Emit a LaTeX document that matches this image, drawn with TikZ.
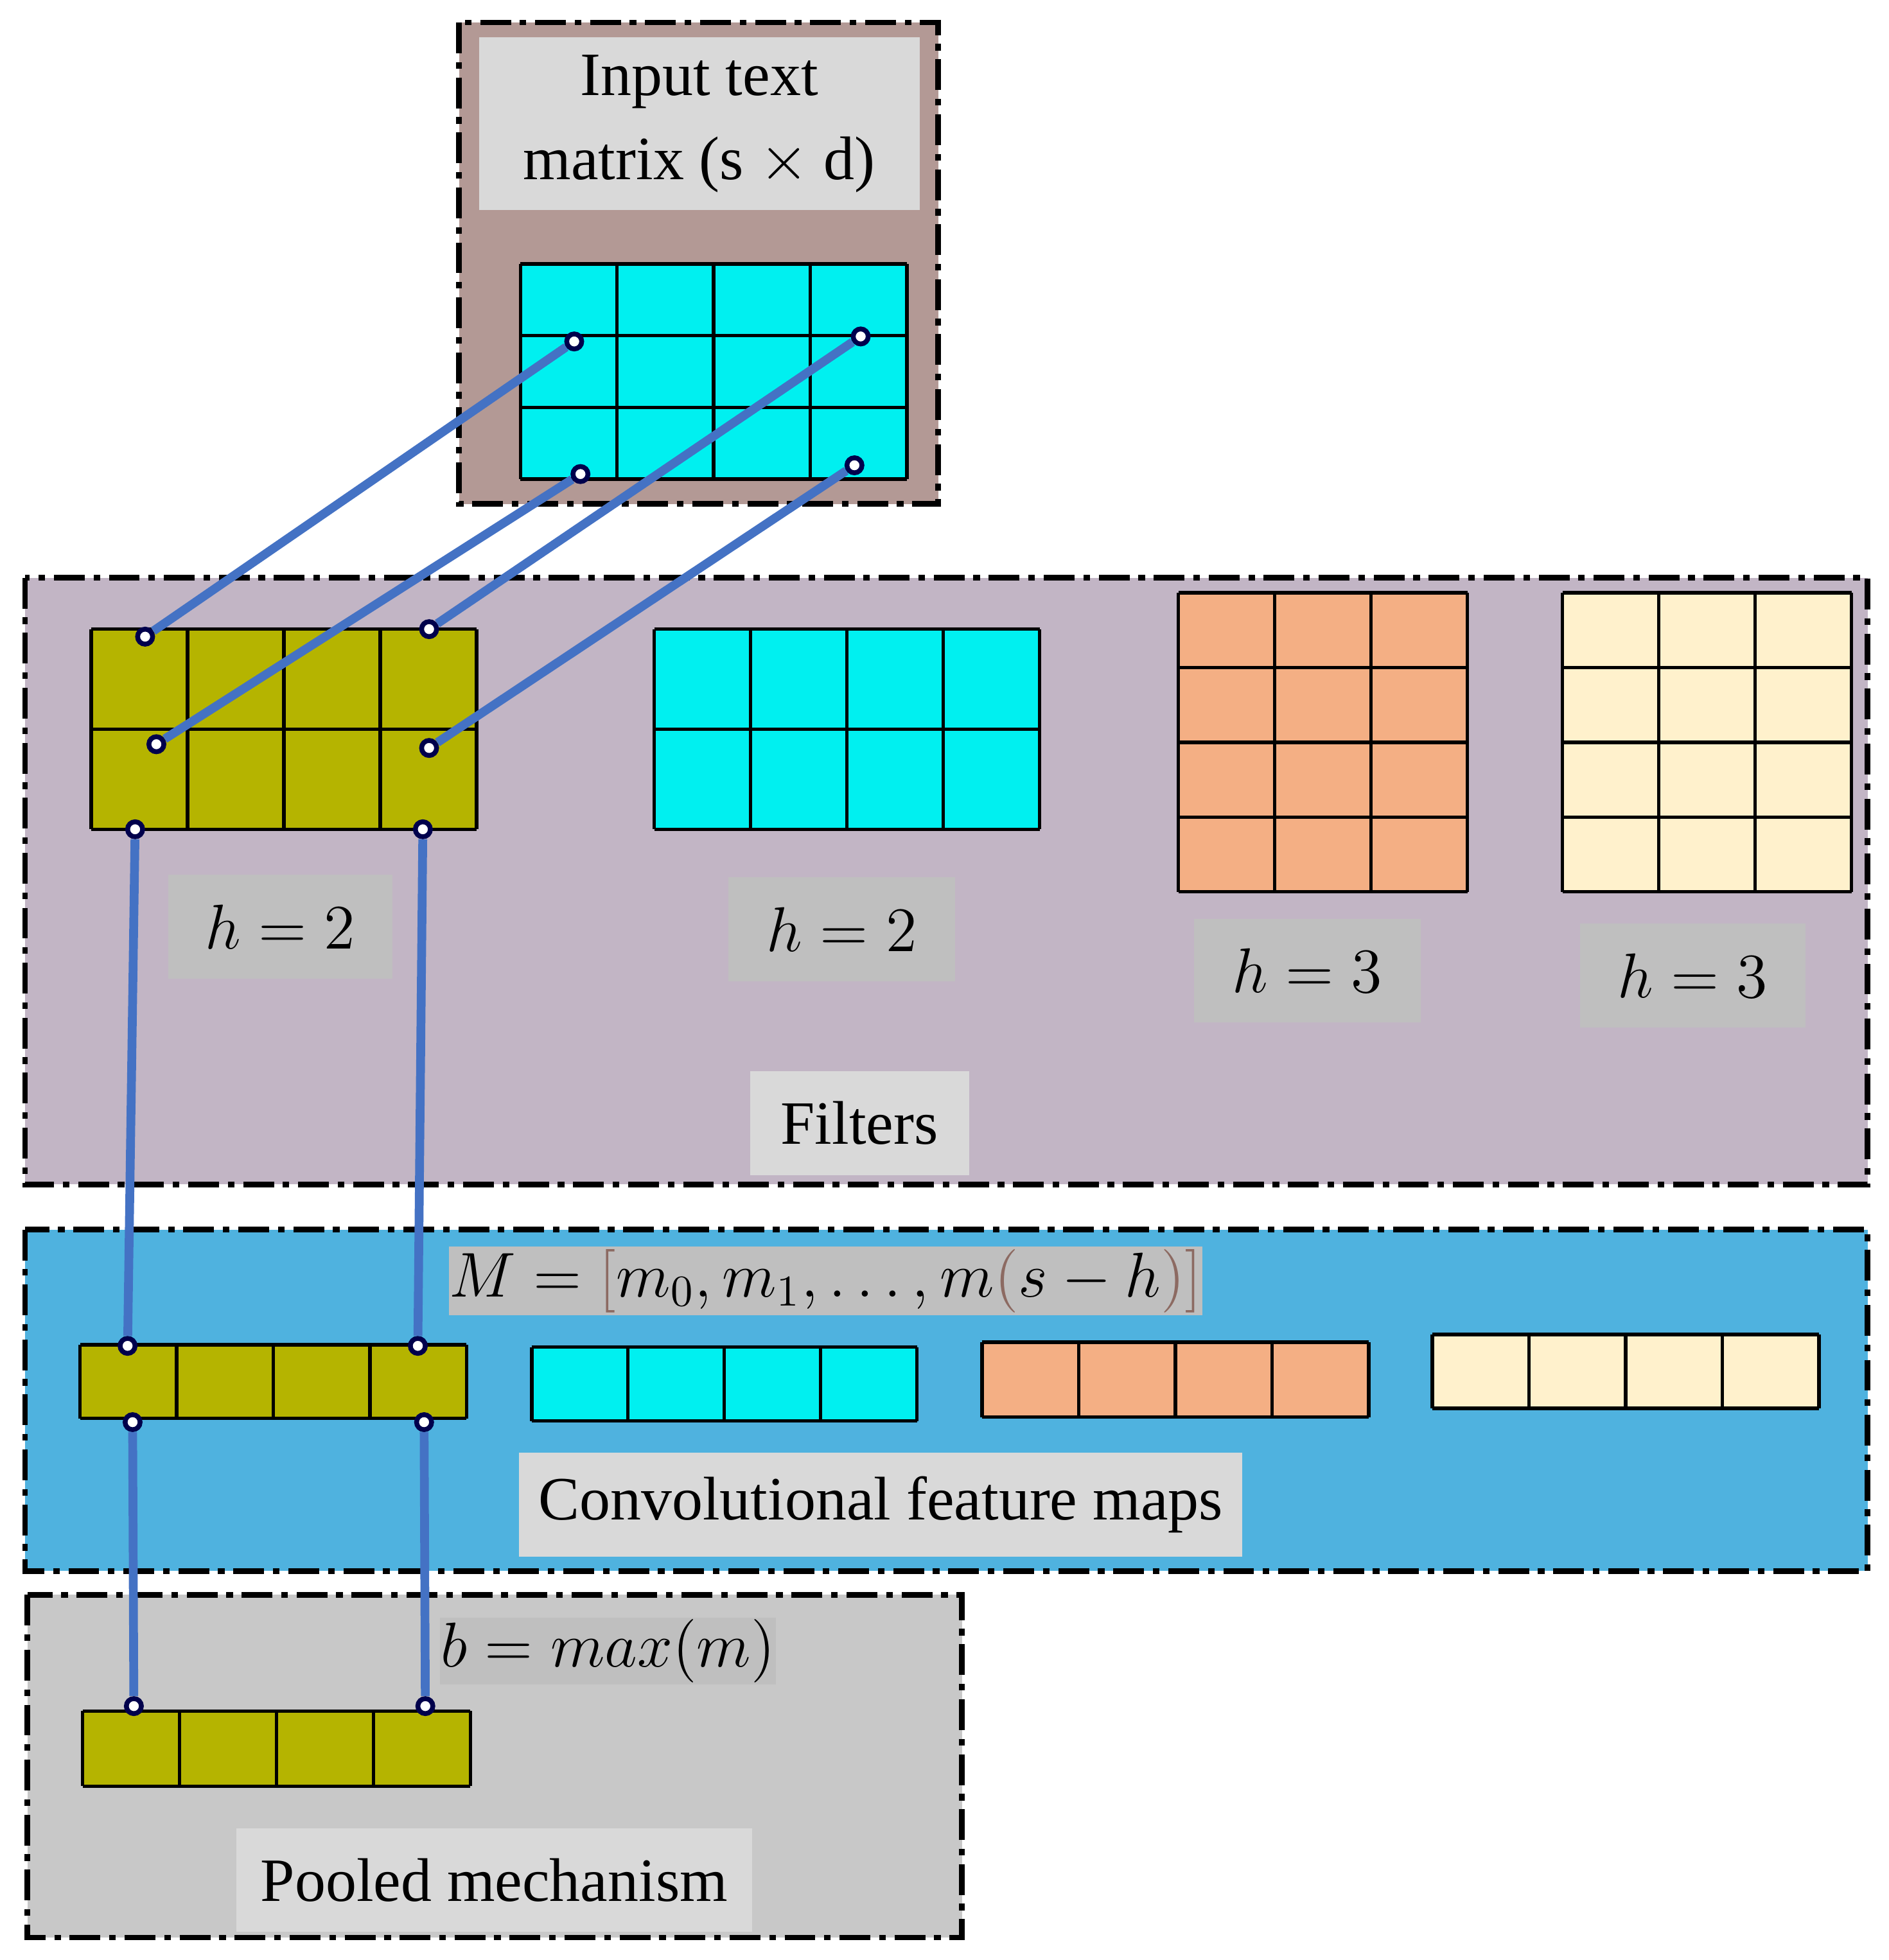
\documentclass[tikz,border=0pt]{standalone}
\usepackage{fontspec}
\setmainfont{Liberation Serif}
\usetikzlibrary{positioning}
\definecolor{inbg}{HTML}{B39995}
\definecolor{filtbg}{HTML}{C2B5C5}
\definecolor{convbg}{HTML}{4FB2DF}
\definecolor{poolbg}{HTML}{C8C8C8}
\definecolor{lblight}{HTML}{D9D9D9}
\definecolor{lbdark}{HTML}{BFBFBF}
\definecolor{olive}{HTML}{B5B400}
\definecolor{aqua}{HTML}{00F0F0}
\definecolor{salmon}{HTML}{F4AF84}
\definecolor{cream}{HTML}{FFF1CC}
\definecolor{wireblue}{HTML}{4472C4}
\definecolor{brn}{HTML}{8C6A62}
\tikzset{
  panel/.style={draw=black,line width=1.3pt,dash pattern=on 7pt off 2pt on 1.5pt off 2pt},
  tag/.style={inner sep=0pt,minimum height=0.83cm,font=\fontsize{14}{17}\selectfont},
  pin/.style={circle,draw=blue!30!black,fill=white,line width=1.1pt,inner sep=0pt,minimum size=0.12cm},
  wire/.style={draw=wireblue,line width=2pt}
}
\newcommand\fgrid[7]{%
  \fill[#1] (#2,#3) rectangle (#4,#5);
  \foreach \i in {0,...,#6} \draw[line width=0.8pt] ({#2+(#4-#2)*\i/#6},#3) -- ({#2+(#4-#2)*\i/#6},#5);
  \foreach \j in {0,...,#7} \draw[line width=0.8pt] (#2,{#3+(#5-#3)*\j/#7}) -- (#4,{#3+(#5-#3)*\j/#7});
}
\begin{document}
\begin{tikzpicture}[x=0.01cm,y=-0.01cm]
  \useasboundingbox (0,0) rectangle (1510,1567);
  % panels
  \fill[inbg] (367,18) rectangle (750,403);
  \draw[panel] (367,18) rectangle (750,403);
  \fill[filtbg] (20,462) rectangle (1493,947);
  \draw[panel] (20,462) rectangle (1493,947);
  \fill[convbg] (20,983) rectangle (1493,1256);
  \draw[panel] (20,983) rectangle (1493,1256);
  \fill[poolbg] (22,1275) rectangle (769,1549);
  \draw[panel] (22,1275) rectangle (769,1549);
  % labels
  \node[tag,fill=lblight,minimum width=3.52cm,minimum height=1.38cm,align=center] (input) at (559,99) {Input text\\[2pt]matrix (s $\times$ d)};
  \node[tag,fill=lbdark,minimum width=1.79cm] (h1) at (224,741) {$h = 2$};
  \node[tag,fill=lbdark,minimum width=1.81cm] (h2) at (673,743) {$h = 2$};
  \node[tag,fill=lbdark,minimum width=1.81cm] (h3) at (1045,776) {$h = 3$};
  \node[tag,fill=lbdark,minimum width=1.80cm] (h4) at (1353,780) {$h = 3$};
  \node[tag,fill=lblight,minimum width=1.75cm] (filters) at (687,898) {Filters};
  \node[tag,fill=lbdark,minimum width=5.44cm,minimum height=0.55cm] (mlab) at (660,1024)
    {$M = \textcolor{brn}{[}m_0, m_1, \dots, m\textcolor{brn}{(}s - h\textcolor{brn}{)]}$};
  \node[tag,fill=lblight,minimum width=5.78cm] (conv) at (704,1203) {Convolutional feature maps};
  \node[tag,fill=lbdark,minimum width=2.68cm,minimum height=0.53cm] (blab) at (486,1320) {$b = max(m)$};
  \node[tag,fill=lblight,minimum width=4.12cm] (pool) at (395,1503) {Pooled mechanism};
  % grids
  \fgrid{aqua}{416}{211}{725}{383}{4}{3}
  \fgrid{olive}{73}{503}{381}{663}{4}{2}
  \fgrid{aqua}{523}{503}{831}{663}{4}{2}
  \fgrid{salmon}{942}{474}{1173}{713}{3}{4}
  \fgrid{cream}{1249}{474}{1480}{713}{3}{4}
  \fgrid{olive}{64}{1075}{373}{1134}{4}{1}
  \fgrid{aqua}{425}{1077}{733}{1136}{4}{1}
  \fgrid{salmon}{785}{1073}{1094}{1133}{4}{1}
  \fgrid{cream}{1145}{1067}{1454}{1126}{4}{1}
  \fgrid{olive}{66}{1368}{376}{1428}{4}{1}
  % pins
  \node[pin] (a1) at (459,273) {};
  \node[pin] (a2) at (688,269) {};
  \node[pin] (a3) at (464,379) {};
  \node[pin] (a4) at (683,372) {};
  \node[pin] (b1) at (116,509) {};
  \node[pin] (b2) at (343,503) {};
  \node[pin] (b3) at (125,595) {};
  \node[pin] (b4) at (343,598) {};
  \node[pin] (c1) at (108,663) {};
  \node[pin] (c2) at (338,663) {};
  \node[pin] (d1) at (102,1076) {};
  \node[pin] (d2) at (334,1076) {};
  \node[pin] (e1) at (106,1137) {};
  \node[pin] (e2) at (339,1137) {};
  \node[pin] (f1) at (107,1364) {};
  \node[pin] (f2) at (340,1364) {};
  % wires
  \draw[wire] (a1) -- (b1);
  \draw[wire] (a2) -- (b2);
  \draw[wire] (a3) -- (b3);
  \draw[wire] (a4) -- (b4);
  \draw[wire] (c1) -- (d1);
  \draw[wire] (c2) -- (d2);
  \draw[wire] (e1) -- (f1);
  \draw[wire] (e2) -- (f2);
\end{tikzpicture}
\end{document}
